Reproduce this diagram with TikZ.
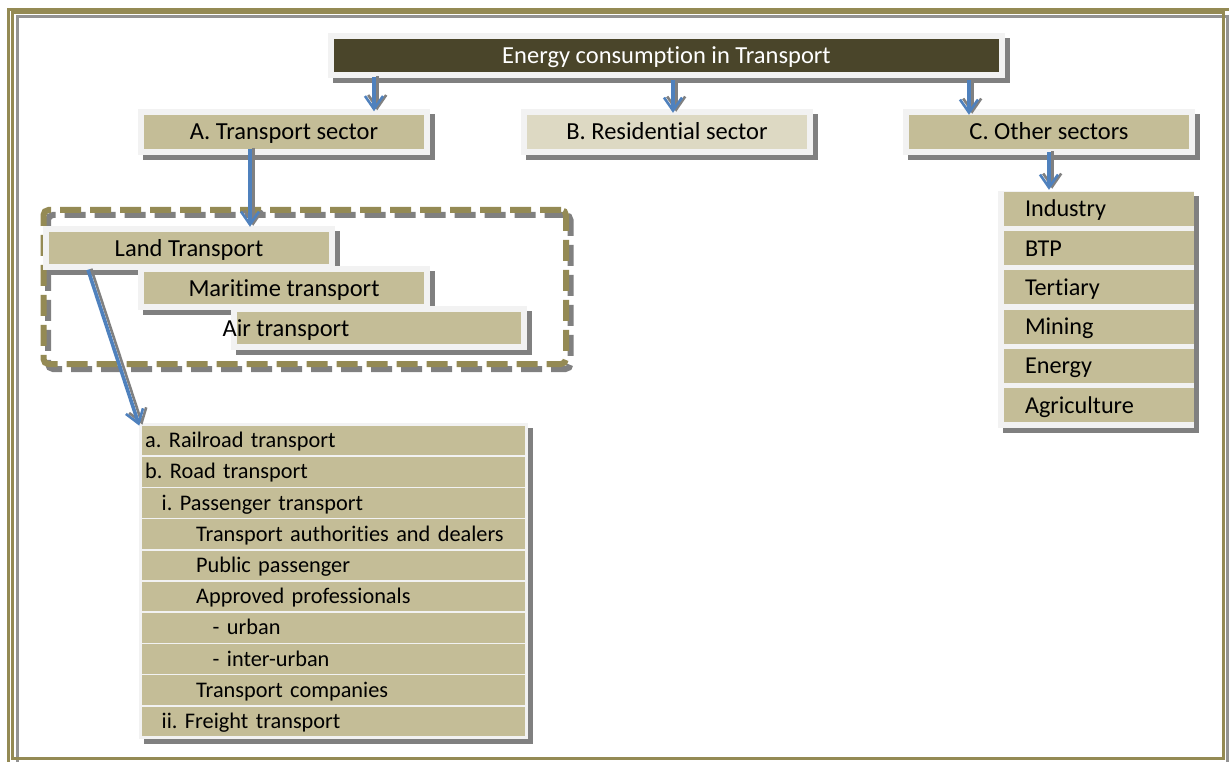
\documentclass[tikz,border=0pt]{standalone}
\usepackage{fontspec}
\setmainfont{Carlito}[Ligatures={NoCommon}]
\frenchspacing
\usetikzlibrary{arrows.meta,shadows,calc}

\definecolor{boxtan}{HTML}{C4BD97}
\definecolor{paletan}{HTML}{DDD9C3}
\definecolor{darkfill}{HTML}{4A452A}
\definecolor{framegold}{HTML}{948A54}
\definecolor{linkblue}{HTML}{4F81BD}
\definecolor{shadegrey}{HTML}{808080}
\definecolor{framegrey}{HTML}{939393}
\definecolor{rimgrey}{HTML}{F2F2F2}

\tikzset{
  boxshadow/.style={drop shadow={shadow xshift=5pt,shadow yshift=-5pt,fill=shadegrey,opacity=1}},
  card/.style={fill=rimgrey, draw=none, inner sep=0pt,
    minimum width=292pt, minimum height=46pt, boxshadow,
    text height=20pt, text depth=4pt,
    font=\fontsize{24.5pt}{28pt}\selectfont,
    path picture={\fill[#1]
      ($(path picture bounding box.south west)+(6pt,6pt)$) rectangle
      ($(path picture bounding box.north east)+(-6pt,-6pt)$);}},
  card/.default=boxtan,
  groupframe/.style={draw=framegold, line width=6pt, dash pattern=on 21pt off 9pt,
    rounded corners=5pt, minimum width=522.5pt, minimum height=154pt, inner sep=0pt},
  listbg/.style={fill=rimgrey, inner sep=0pt, boxshadow},
  rowcell/.style={fill=boxtan, draw=rimgrey, line width=1.6pt,
    minimum height=31.2pt, text width=376.3pt, inner xsep=4.5pt, inner ysep=0pt,
    text height=17.5pt, text depth=3.5pt,
    align=left, font=\fontsize{22.3pt}{26pt}\selectfont},
  sectorcell/.style={fill=boxtan, minimum height=34pt, text width=148pt,
    inner xsep=21pt, inner ysep=0pt, align=left,
    text height=20pt, text depth=4pt,
    font=\fontsize{24.2pt}{28pt}\selectfont},
  conn/.style={draw=linkblue, line width=3.6pt,
    -{Straight Barb[length=13pt,width=18pt,line width=2.6pt]}},
  connshadow/.style={conn, draw=shadegrey, line width=2.6pt, transform canvas={xshift=3.2pt,yshift=1pt}},
}

% blue connector with its grey shadow
\newcommand\linkarrow[3][]{%
  \draw[connshadow,#1] #2 -- #3;
  \draw[conn,#1] #2 -- #3;}

\begin{document}
\begin{tikzpicture}[x=1pt,y=-1pt]
  \useasboundingbox (0,0) rectangle (1229,762);
  \fill[white] (0,0) rectangle (1229,762);

  % page frame
  \draw[framegrey, line width=3pt] (17.5,16.5) rectangle (1227.5,763);
  \draw[framegold, line width=3.3pt] (12.75,12.5) rectangle (1223.3,758.3);
  \draw[framegold, line width=3pt] (8.3,763) -- (8.3,9.5) -- (1229,9.5);

  % top level
  \node[card=darkfill, text=white, minimum width=677pt, minimum height=45pt]
    (top) at (666.5,55.5) {Energy consumption in Transport};
  \node[card] (secA) at (284,132) {A. Transport sector};
  \node[card=paletan] (secB) at (667,132) {B. Residential sector};
  \node[card] (secC) at (1049,132) {C. Other sectors};

  % group of transport modes
  \node[groupframe, draw=shadegrey] (groupshadow) at (309.25,292) {};
  \node[groupframe] (group) at (304.75,287) {};
  \node[card, minimum height=43pt] (land) at (189,248) {Land Transport};
  \node[card, minimum height=44pt] (maritime) at (284,288) {Maritime transport};
  \node[card, minimum width=296pt, minimum height=44pt] (air) at (379,327.5) {};
  \node[font=\fontsize{24.5pt}{28pt}\selectfont, inner sep=0pt,
    text height=20pt, text depth=4pt] (airtext) at (286,328) {Air transport};

  % land transport breakdown
  \node[listbg, minimum width=389pt, minimum height=316pt] (tlist) at (333,581) {};
  \foreach \ind/\t [count=\i] in {
      0/a. Railroad transport,
      0/b. Road transport,
      16.5/i. Passenger transport,
      51/Transport authorities and dealers,
      51/Public passenger,
      51/Approved professionals,
      67.5/- urban,
      67.5/- inter-urban,
      51/Transport companies,
      16.5/ii. Freight transport}
    \node[rowcell] (t\i) at (333.35,{425+31.2*(\i-0.5)}) {\hspace*{\ind pt}\t};

  % other sectors breakdown
  \node[listbg, minimum width=196pt, minimum height=237pt] (olist) at (1096,309.5) {};
  \foreach \t [count=\i] in {Industry, BTP, Tertiary, Mining, Energy, Agriculture}
    \node[sectorcell] (o\i) at (1099,{209+39.2*(\i-1)}) {\t};

  % connectors
  \coordinate (xa) at (374,0);
  \coordinate (xb) at (673,0);
  \coordinate (xc) at (969,0);
  \coordinate (xg) at (250,0);
  \coordinate (xl) at (88,0);
  \linkarrow[shorten <=-1pt, shorten >=-2.5pt]{(top.south -| xa)}{(secA.north -| xa)}
  \linkarrow[shorten <=2pt, shorten >=-4pt]{(top.south -| xb)}{(secB.north -| xb)}
  \linkarrow[shorten <=2pt, shorten >=-6pt]{(top.south -| xc)}{(secC.north -| xc)}
  \linkarrow[shorten <=-6pt, shorten >=-0.5pt]{(secA.south -| xg)}{(land.north -| xg)}
  \linkarrow[shorten >=-3pt]{(land.south -| xl)}{(tlist.north west)}
  \linkarrow[shorten <=-3pt, shorten >=1pt]{(secC.south)}{(secC.south |- olist.north)}
\end{tikzpicture}
\end{document}
